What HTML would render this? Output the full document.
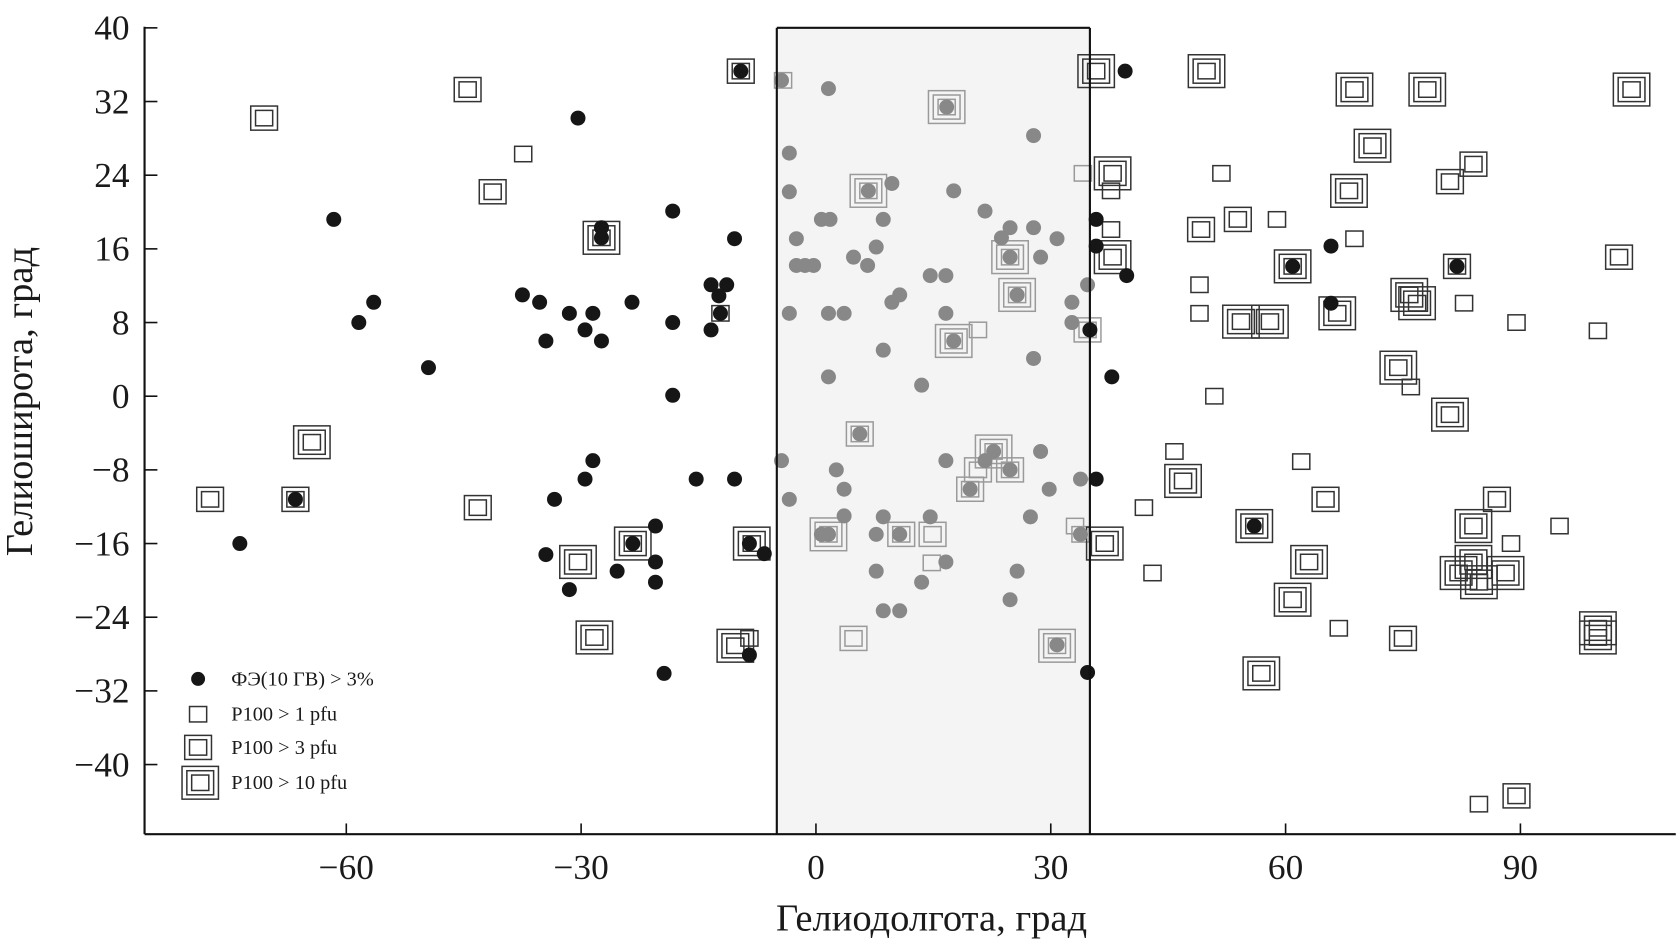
<!DOCTYPE html>
<html><head><meta charset="utf-8"><style>
html,body{margin:0;padding:0;background:#fff;}
svg{display:block;}
text{font-family:"Liberation Serif",serif;fill:#1a1a1a;}
</style></head><body>
<svg id="chart" width="1679" height="948" viewBox="0 0 1568 885.3" xmlns="http://www.w3.org/2000/svg">
<g id="plot"></g>
</svg>
<script>
const xTicks=[-60,-30,0,30,60,90];
const yTicks=[40,32,24,16,8,0,-8,-16,-24,-32,-40];
const shadeRange=[-5,35];
// black dots (lon, lat)
const blackLon=[-9.6,-30.4,-61.6,-58.4,-56.5,-49.5,-27.4,-27.4,-18.3,-10.4,-37.5,-35.3,-34.5,-31.5,-29.5,-28.5,-27.4,-23.5,-18.3,-13.4,-12.4,-11.4,-13.4,-12.2,-18.3,-28.5,-29.5,-33.4,-34.5,-31.5,-25.4,-20.5,-20.5,-20.5,-23.4,-19.4,-15.3,-10.4,-8.5,-6.6,-8.5,-73.6,-66.5,39.5,35.8,35.8,39.7,37.8,35.8,34.7,60.9,65.8,65.8,81.9,56,35];
const blackLat=[35.3,30.2,19.2,8,10.2,3.1,18.3,17.2,20.1,17.1,11,10.2,6,9,7.2,9,6,10.2,8,12.1,10.9,12.1,7.2,9,0.1,-7,-9,-11.2,-17.2,-21,-19,-14.1,-18,-20.2,-16,-30.1,-9,-9,-16,-17.1,-28.1,-16,-11.2,35.3,19.2,16.3,13.1,2.1,-9,-30,14.1,16.3,10.1,14.1,-14.1,7.2];
// grey dots (inside shaded band)
const greyLon=[-4.4,1.6,-3.4,-3.4,-2.5,-2.5,-1.4,-0.3,0.7,1.8,-3.4,1.6,3.6,4.8,6.6,7.7,8.6,9.7,6.7,10.7,9.7,8.6,14.6,16.6,16.6,17.6,21.6,23.7,24.8,27.8,27.8,28.7,30.8,25.7,16.7,32.7,32.7,34.7,13.5,1.6,17.6,27.8,-4.4,-3.4,2.6,3.6,3.6,0.7,1.6,7.7,8.6,10.7,7.7,8.6,10.7,13.5,14.6,16.6,16.6,21.6,22.7,24.8,27.4,25.7,24.8,28.7,29.8,33.8,33.8,30.8,19.7,5.6,24.8];
const greyLat=[34.3,33.4,26.4,22.2,17.1,14.2,14.2,14.2,19.2,19.2,9,9,9,15.1,14.2,16.2,19.2,23.1,22.3,11,10.2,5,13.1,13.1,9,22.3,20.1,17.2,18.3,18.3,28.3,15.1,17.1,11,31.4,10.2,8,12.1,1.2,2.1,6,4.1,-7,-11.2,-8,-10.1,-13,-15,-15,-15,-13.1,-15,-19,-23.3,-23.3,-20.2,-13.1,-18,-7,-7,-6,-8,-13.1,-19,-22.1,-6,-10.1,-9,-15,-27,-10.1,-4.1,15.1];
// squares: lon, lat, level (1: >1 pfu, 2: >3 pfu, 3: >10 pfu)
const sqLon=[-70.5,-44.5,-37.4,-41.3,-27.4,-64.4,-77.4,-66.5,-43.2,-30.4,-23.4,-28.3,-9.6,-12.2,-8.2,-10.3,-8.5,-4.2,6.7,16.7,34.1,24.8,25.7,17.6,20.7,34.7,5.6,22.7,24.8,20.7,19.7,1.6,10.9,14.9,14.8,33.1,33.8,4.8,30.8,35.8,49.9,68.8,78.1,104.2,71.1,37.9,37.7,51.8,58.9,68.1,68.8,81,84,49.2,53.9,37.7,37.9,60.9,81.9,102.6,49,49,54.3,58,66.6,75.8,76.8,82.8,89.5,99.9,74.4,76,81,50.9,45.8,46.9,41.9,43,62,65.1,56,63,60.9,36.9,66.8,75,56.9,87,95,84,88.8,84,82.1,88.1,84.7,99.9,99.9,89.5,84.7];
const sqLat=[30.2,33.3,26.3,22.2,17.2,-5,-11.2,-11.2,-12.1,-18,-16,-26.2,35.3,9,-16,-27.1,-26.3,34.3,22.3,31.4,24.2,15.1,11,6,7.2,7.2,-4.1,-6,-8,-8,-10.1,-15,-15,-15,-18.1,-14.1,-15,-26.3,-27.1,35.3,35.3,33.3,33.3,33.3,27.2,24.2,22.3,24.2,19.2,22.3,17.1,23.3,25.2,18.1,19.2,18.1,15.1,14.1,14.1,15.1,12.1,9,8.1,8.1,9,11,10.1,10.1,8,7.1,3.1,1,-2,0,-6,-9.2,-12.1,-19.2,-7.1,-11.2,-14.1,-18,-22.1,-16,-25.2,-26.3,-30.1,-11.2,-14.1,-14.1,-16,-18,-19.2,-19.2,-20.2,-25.2,-26.2,-43.4,-44.3];
const sqLevel=[2,2,1,2,3,3,2,2,2,3,3,3,2,1,3,3,1,1,3,3,1,3,3,3,1,2,2,3,2,2,2,3,2,2,1,1,1,2,3,3,3,3,3,3,3,3,1,1,1,3,1,2,2,2,2,1,3,3,2,2,1,1,3,3,3,3,3,1,1,1,3,1,3,1,1,3,1,1,1,2,3,3,3,3,1,2,3,2,1,3,1,3,3,3,3,3,3,2,1];

const NS='http://www.w3.org/2000/svg';
const X0=762, XS=7.31, Y0=370, YS=8.6;
function xs(v){return X0+v*XS;}
function ys(v){return Y0-v*YS;}
const L=135,R=1565,T=26,B=779;
const g=document.getElementById('plot');
function el(tag,attrs,parent){const e=document.createElementNS(NS,tag);for(const k in attrs)e.setAttribute(k,attrs[k]);(parent||g).appendChild(e);return e;}

const band=el('rect',{x:xs(shadeRange[0]),y:T,width:xs(shadeRange[1])-xs(shadeRange[0]),height:B-T,fill:'#f4f4f4',stroke:'none'});



const sizes=[16,25,34];
function drawSquare(cx,cy,lvl,inBand,parent){
  const col=inBand?'#9a9a9a':'#333';
  for(let i=0;i<lvl;i++){const s=sizes[i];const h=s*0.9;
    el('rect',{x:cx-s/2,y:cy-h/2,width:s,height:h,fill:'none',stroke:col,'stroke-width':1.4},parent);}
}
for(let i=0;i<sqLon.length;i++){
  const inBand=sqLon[i]>shadeRange[0]&&sqLon[i]<shadeRange[1];
  const sg=el('g',{});
  
  
  drawSquare(xs(sqLon[i]),ys(sqLat[i]),sqLevel[i],inBand,sg);
}
for(let i=0;i<greyLon.length;i++){
  const c=el('circle',{cx:xs(greyLon[i]),cy:ys(greyLat[i]),r:7,fill:'#888'});
  
  
}
for(let i=0;i<blackLon.length;i++){
  const c=el('circle',{cx:xs(blackLon[i]),cy:ys(blackLat[i]),r:7,fill:'#161616'});
  
  
}
el('line',{x1:xs(shadeRange[0]),y1:T,x2:xs(shadeRange[0]),y2:B,stroke:'#111','stroke-width':2});
el('line',{x1:xs(shadeRange[1]),y1:T,x2:xs(shadeRange[1]),y2:B,stroke:'#111','stroke-width':2});
el('line',{x1:xs(shadeRange[0]),y1:T,x2:xs(shadeRange[1]),y2:T,stroke:'#111','stroke-width':2});
const ax=el('line',{x1:L,y1:B,x2:R,y2:B,stroke:'#111','stroke-width':2});

const ay=el('line',{x1:L,y1:T-1,x2:L,y2:B,stroke:'#111','stroke-width':2});

xTicks.forEach(v=>{
  el('line',{x1:xs(v),y1:B,x2:xs(v),y2:B-10,stroke:'#111','stroke-width':1.5});
  const t=el('text',{x:xs(v),y:B+42,'text-anchor':'middle','font-size':33});
  t.textContent=(v<0?'\u2212'+(-v):String(v));
  
  
});
yTicks.forEach(v=>{
  el('line',{x1:L,y1:ys(v),x2:L+12,y2:ys(v),stroke:'#111','stroke-width':1.5});
  const t=el('text',{x:L-14,y:ys(v)+11,'text-anchor':'end','font-size':33});
  t.textContent=(v<0?'\u2212'+(-v):String(v));
  
  
});
const xt=el('text',{x:870,y:869,'text-anchor':'middle','font-size':36});
xt.textContent='Гелиодолгота, град';

const yt=el('text',{x:0,y:0,'text-anchor':'middle','font-size':36,transform:'translate(30,375) rotate(-90)'});
yt.textContent='Гелиоширота, град';

const lg=el('g',{});

el('circle',{cx:185,cy:634,r:6.5,fill:'#161616'},lg);
drawSquare(185,667,1,false,lg);
drawSquare(185,698,2,false,lg);
drawSquare(187,731,3,false,lg);
const labels=['ФЭ(10 ГВ) > 3%','P100 > 1 pfu','P100 > 3 pfu','P100 > 10 pfu'];
const ly=[634,667,698,731];
labels.forEach((s,i)=>{const t=el('text',{x:216,y:ly[i]+6,'font-size':19},lg);t.textContent=s;
  });
</script>
</body></html>
